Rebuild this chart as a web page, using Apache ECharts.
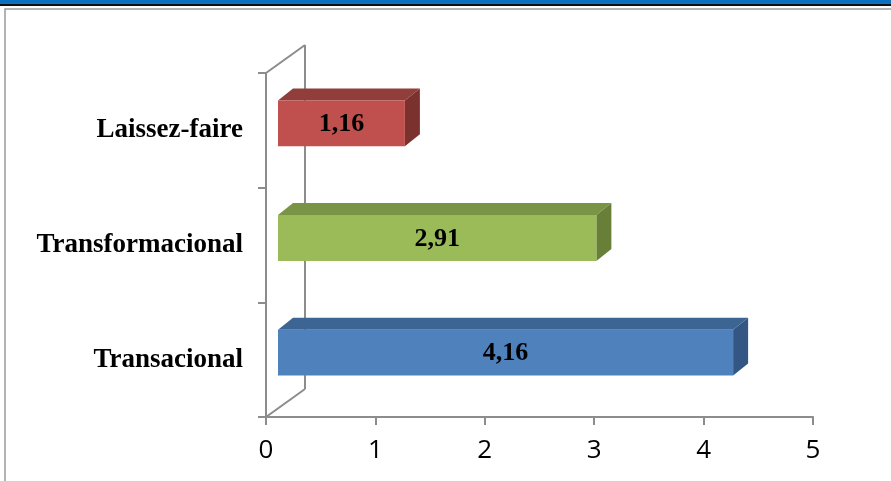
<!DOCTYPE html>
<html><head><meta charset="utf-8">
<script src="https://cdn.jsdelivr.net/npm/echarts@6/dist/echarts.min.js"></script>
<style>html,body{margin:0;padding:0;background:#fff}#c{width:891px;height:481px}</style>
</head><body><div id="c"></div>
<script>
var categories = ['Transacional', 'Transformacional', 'Laissez-faire'];
var values = [4.16, 2.91, 1.16];
var valueLabels = ['4,16', '2,91', '1,16'];
var xTicks = [0, 1, 2, 3, 4, 5];
var frontColors = ['#4f81bd', '#9bbb59', '#c0504d'];
var topColors = ['#3d6594', '#7a9446', '#913e3b'];
var sideColors = ['#345684', '#687f37', '#7b322f'];

var chart = echarts.init(document.getElementById('c'));
var gray = '#8c8c8c';
var DX = 39, DY = -28;       // floor depth
var FX = 12, FY = -7;        // bar front offset
var BX = 15, BY = -12;       // bar depth

var option = {
  animation: false,
  backgroundColor: '#fff',
  graphic: [
    { type: 'rect', shape: { x: 0, y: 0, width: 891, height: 3.5 }, style: { fill: '#0b70bf' }, z: 10 },
    { type: 'rect', shape: { x: 0, y: 3.5, width: 891, height: 2.5 }, style: { fill: '#111' }, z: 10 },
    { type: 'polyline', shape: { points: [[5, 481], [5, 9], [891, 9]] }, style: { stroke: '#9a9a9a', lineWidth: 1.5, fill: null }, z: 10 }
  ],
  grid: { left: 266, right: 78, top: 73, bottom: 64 },
  xAxis: {
    type: 'value', min: xTicks[0], max: xTicks[xTicks.length - 1], interval: 1,
    axisLine: { show: true, lineStyle: { color: gray, width: 2 } },
    axisTick: { show: true, length: 8, lineStyle: { color: gray, width: 2 } },
    splitLine: { show: false },
    axisLabel: { color: '#000', fontSize: 26, fontFamily: 'Open Sans', margin: 21 }
  },
  yAxis: {
    type: 'category', data: categories,
    axisLine: { show: true, lineStyle: { color: gray, width: 2 } },
    axisTick: { show: true, length: 8, lineStyle: { color: gray, width: 2 } },
    axisLabel: { color: '#000', fontSize: 27, fontWeight: 'bold', fontFamily: 'Liberation Serif', margin: 23, padding: [6, 0, 0, 0] }
  },
  series: [
    {
      type: 'custom', z: 1, silent: true,
      data: [[0]],
      renderItem: function (params, api) {
        var cs = params.coordSys;
        var x0 = cs.x, y0 = cs.y, y1 = cs.y + cs.height;
        var st = { stroke: gray, lineWidth: 2 };
        return { type: 'group', children: [
          { type: 'line', shape: { x1: x0, y1: y0, x2: x0 + DX, y2: y0 + DY }, style: st },
          { type: 'line', shape: { x1: x0 + DX, y1: y0 + DY, x2: x0 + DX, y2: y1 + DY }, style: st },
          { type: 'line', shape: { x1: x0, y1: y1, x2: x0 + DX, y2: y1 + DY }, style: st }
        ]};
      }
    },
    {
      type: 'custom', z: 5,
      data: values.map(function (v, i) { return [v, i]; }),
      renderItem: function (params, api) {
        var i = api.value(1);
        var p0 = api.coord([0, i]);
        var p1 = api.coord([api.value(0), i]);
        var h = api.size([0, 1])[1] * 0.4;
        var cy = p0[1] + FY;
        var xa = p0[0] + FX, xb = p1[0] + FX;
        var t = cy - h / 2, b = cy + h / 2;
        return { type: 'group', children: [
          { type: 'polygon', shape: { points: [[xa, t], [xb, t], [xb + BX, t + BY], [xa + BX, t + BY]] }, style: { fill: topColors[i] } },
          { type: 'polygon', shape: { points: [[xb, t], [xb + BX, t + BY], [xb + BX, b + BY], [xb, b]] }, style: { fill: sideColors[i] } },
          { type: 'rect', shape: { x: xa, y: t, width: xb - xa, height: b - t }, style: { fill: frontColors[i] } },
          { type: 'text', x: (xa + xb) / 2, y: cy + 1, style: { text: valueLabels[i], fill: '#000', font: 'bold 26px "Liberation Serif"', align: 'center', verticalAlign: 'middle' } }
        ]};
      }
    }
  ]
};
chart.setOption(option);
</script></body></html>
